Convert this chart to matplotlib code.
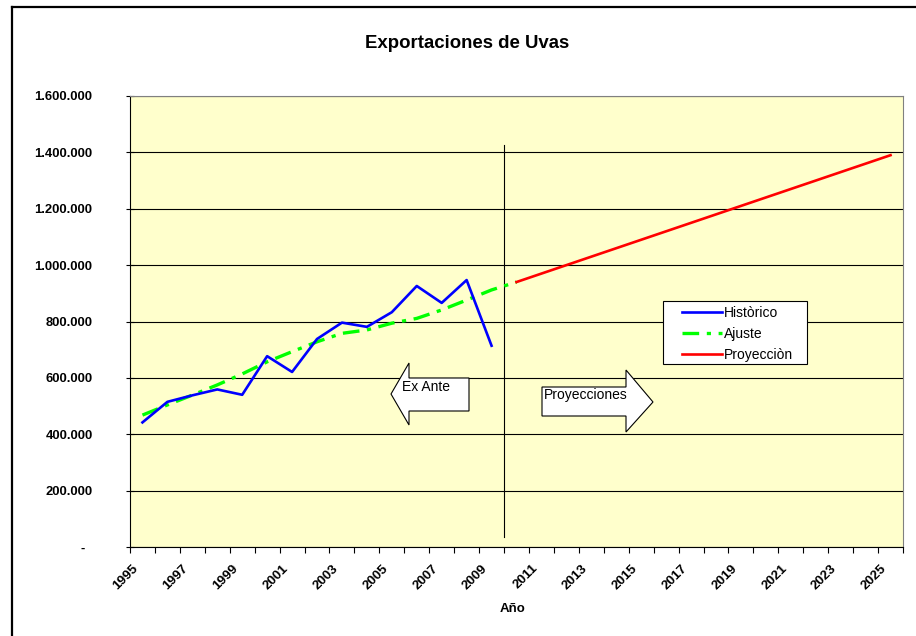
import matplotlib
matplotlib.use("Agg")
import matplotlib.pyplot as plt
from matplotlib.patches import Polygon, Rectangle
from matplotlib.lines import Line2D
from matplotlib.ticker import FuncFormatter, FixedLocator
import matplotlib.transforms as mtransforms

plt.rcParams["font.family"] = ["Liberation Sans", "DejaVu Sans"]
plt.rcParams["lines.scale_dashes"] = False

# data
hist_years = list(range(1995, 2010))
hist_values = [442000, 515000, 538000, 559000, 540000, 677000, 621000, 738000,
               796000, 781000, 833000, 926000, 866000, 947000, 714000]

fit_years = list(range(1995, 2011))
fit_values = [468000, 504000, 539000, 575000, 614000, 657000, 693000, 728000,
              758000, 770000, 794000, 811000, 841000, 876000, 912000, 940000]

proj_years = list(range(2010, 2026))
proj_values = [940000, 970000, 1000000, 1030000, 1060000, 1090000, 1120000, 1150000,
               1180000, 1210000, 1240000, 1270000, 1300000, 1330000, 1360000, 1390000]

first_year, last_year = 1995, 2025
label_years = list(range(1995, 2026, 2))
y_ticks = list(range(0, 1600001, 200000))

W, H = 916, 636
fig = plt.figure(figsize=(W / 100, H / 100), dpi=100)


def px(x, y):
    return (x / W, 1 - y / H)


ax = fig.add_axes([130 / W, 1 - 547 / H, 773 / W, 451 / H])
ax.set_facecolor("#FFFFCC")

ax.plot(hist_years, hist_values, color="#0000FF", lw=1.9, label="Històrico", zorder=4)
ax.plot(fit_years, fit_values, color="#00FF00", lw=2.4, dashes=(12, 5.5, 3, 5.5),
        label="Ajuste", zorder=3)
ax.plot(proj_years, proj_values, color="#FF0000", lw=1.9, label="Proyecciòn", zorder=4)

# separator between historic and projected periods
ax.plot([2009.5, 2009.5], [35000, 1425000], color="black", lw=0.8, zorder=2)

ax.set_xlim(first_year - 0.5, last_year + 0.5)
ax.set_ylim(0, 1600000)

ax.set_yticks(y_ticks)
ax.yaxis.set_major_formatter(FuncFormatter(
    lambda v, p: "-  " if v == 0 else f"{v:,.0f}".replace(",", ".")))
ax.grid(axis="y", color="black", lw=0.8, zorder=1)
ax.set_axisbelow(True)
ax.tick_params(axis="y", direction="inout", length=6, width=0.8, pad=24,
               labelsize=9.4)
for t in ax.get_yticklabels():
    t.set_fontweight("bold")

ax.xaxis.set_major_locator(FixedLocator(label_years))
ax.set_xticklabels([str(y) for y in label_years], rotation=45, ha="right",
                   va="top", rotation_mode="anchor", fontsize=9.6, fontweight="bold")
ax.xaxis.set_minor_locator(FixedLocator([y - 0.5 for y in range(first_year, last_year + 2)]))
ax.tick_params(axis="x", which="major", length=0, pad=11)
ax.tick_params(axis="x", which="minor", direction="out", length=4, width=0.8)
offset = mtransforms.ScaledTranslation(-10 / 100, 0, fig.dpi_scale_trans)
for t in ax.get_xticklabels():
    t.set_transform(t.get_transform() + offset)

for s in ("top", "right"):
    ax.spines[s].set_color("#808080")
    ax.spines[s].set_linewidth(0.8)
for s in ("left", "bottom"):
    ax.spines[s].set_color("black")
    ax.spines[s].set_linewidth(0.8)

# legend: box drawn separately so the handles can sit well inside it
ax.add_patch(Rectangle(px(663, 364), 144 / W, 63 / H, transform=fig.transFigure,
                       facecolor="white", edgecolor="black", lw=0.8, zorder=5))
leg = ax.legend(loc="upper left", bbox_to_anchor=px(682, 306),
                bbox_transform=fig.transFigure, borderaxespad=0, borderpad=0,
                fontsize=10, frameon=False, handlelength=2.9,
                handletextpad=0.1, labelspacing=0.5)
leg.set_zorder(6)

# arrows
ex_ante = [(391, 394), (409, 363), (409, 378), (469, 378), (469, 411), (409, 411), (409, 425)]
proy = [(542, 387), (626, 387), (626, 370), (653, 402), (626, 432), (626, 416), (542, 416)]
for shape in (ex_ante, proy):
    fig.patches.append(Polygon([px(x, y) for x, y in shape], closed=True,
                               transform=fig.transFigure, facecolor="white",
                               edgecolor="black", lw=0.8, zorder=5))
fig.text(*px(402, 387), "Ex Ante", fontsize=10, ha="left", va="center", zorder=6)
fig.text(*px(544, 395), "Proyecciones", fontsize=10, ha="left", va="center", zorder=6)

fig.text(*px(467, 43), "Exportaciones de Uvas", fontsize=13.4, fontweight="bold",
         ha="center", va="center")
fig.text(*px(513, 609), "Año", fontsize=9.5, fontweight="bold", ha="center", va="center")

# outer frame
fig.add_artist(Line2D([11.5 / W, 11.5 / W], [0, 1 - 6.5 / H], transform=fig.transFigure,
                      color="black", lw=1.6))
fig.add_artist(Line2D([11.5 / W, 1], [1 - 6.5 / H, 1 - 6.5 / H], transform=fig.transFigure,
                      color="black", lw=1.6))

fig.savefig("out.png", dpi=100)
